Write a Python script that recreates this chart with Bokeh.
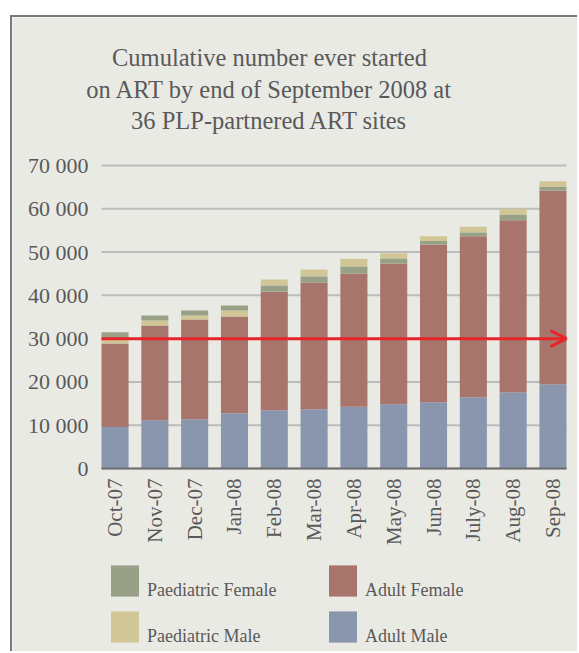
import numpy as np
from bokeh.plotting import figure
from bokeh.models import (Range1d, FixedTicker, Legend, LegendItem, Label,
                          Arrow, OpenHead, ColumnDataSource)
from bokeh.embed import file_html
from bokeh.resources import INLINE

# ---------------- data ----------------
months = ["Oct-07", "Nov-07", "Dec-07", "Jan-08", "Feb-08", "Mar-08",
          "Apr-08", "May-08", "Jun-08", "July-08", "Aug-08", "Sep-08"]
adult_male = [9600, 11150, 11400, 12750, 13450, 13700,
              14250, 14850, 15300, 16450, 17600, 19450]
adult_female = [19300, 21900, 23000, 22350, 27400, 29250,
                30800, 32500, 36400, 37200, 39750, 44700]
paed_female = [1350, 1150, 1150, 1150, 1400, 1400,
               1600, 1150, 850, 850, 1300, 900]
paed_male = [1200, 1150, 950, 1400, 1400, 1600,
             1800, 1250, 1100, 1350, 1350, 1300]
# stacking order of the two paediatric segments in the original chart
paed_male_on_top = [False, False, False, False, True, True,
                    True, True, True, True, True, True]
series_names = ["Paediatric Female", "Adult Female",
                "Paediatric Male", "Adult Male"]
y_ticks = [0, 10000, 20000, 30000, 40000, 50000, 60000, 70000]
y_tick_labels = ["0", "10 000", "20 000", "30 000", "40 000",
                 "50 000", "60 000", "70 000"]
target = 30000
title_lines = ["Cumulative number ever started",
               "on ART by end of September 2008 at",
               "36 PLP-partnered ART sites"]

# ---------------- styling / layout ----------------
FONT = "Liberation Serif"
PANEL = "#EAEAE5"
TEXT = "#595959"
C_AM = "#8A95AE"
C_AF = "#A8756C"
C_PF = "#98A188"
C_PM = "#D0C696"
BAR_W = 0.68
W, H = 567, 636                      # canvas size (canvas starts at page 12,17)
PX_L, PX_R = 89, 554                 # canvas px of first bar left / last bar right
PX_TOP, PX_ZERO = 148, 451           # canvas px of top tick / zero line

x = np.arange(len(months))
am = np.array(adult_male, dtype=float)
af = np.array(adult_female, dtype=float)
pf = np.array(paed_female, dtype=float)
pm = np.array(paed_male, dtype=float)
top_m = np.array(paed_male_on_top)

af_bottom = am
af_top = am + af
pm_bottom = np.where(top_m, af_top + pf, af_top)
pf_bottom = np.where(top_m, af_top, af_top + pm)

src = ColumnDataSource(dict(
    x=x, am_top=am, af_bottom=af_bottom, af_top=af_top,
    pm_bottom=pm_bottom, pm_top=pm_bottom + pm,
    pf_bottom=pf_bottom, pf_top=pf_bottom + pf,
))

# ranges chosen so the plotting area sits where the reference has it
x_lo, x_hi = x[0] - BAR_W / 2, x[-1] + BAR_W / 2
ux = (x_hi - x_lo) / (PX_R - PX_L)
uy = (y_ticks[-1] - y_ticks[0]) / (PX_ZERO - PX_TOP)
x_range = Range1d(x_lo - PX_L * ux, x_hi + (W - PX_R) * ux)
y_range = Range1d(y_ticks[0] - (H - PX_ZERO) * uy, y_ticks[-1] + PX_TOP * uy)

p = figure(width=W, height=H, output_backend="svg", toolbar_location=None,
           x_range=x_range, y_range=y_range,
           min_border=0, min_border_left=0, min_border_right=0,
           min_border_top=0, min_border_bottom=0)
p.margin = (15, 0, 0, 10)
p.styles = {"border-left": "2px solid #7a7a7a", "border-top": "2px solid #7a7a7a"}
p.background_fill_color = PANEL
p.border_fill_color = PANEL
p.outline_line_color = None

# horizontal grid lines at the y ticks
p.segment(x0=[x_lo] * len(y_ticks), x1=[x_hi] * len(y_ticks),
          y0=y_ticks, y1=y_ticks, line_color="#BBBBBB", line_width=2)

r_am = p.vbar(x="x", bottom=0, top="am_top", width=BAR_W, source=src,
              fill_color=C_AM, line_color=None)
r_af = p.vbar(x="x", bottom="af_bottom", top="af_top", width=BAR_W, source=src,
              fill_color=C_AF, line_color=None)
r_pm = p.vbar(x="x", bottom="pm_bottom", top="pm_top", width=BAR_W, source=src,
              fill_color=C_PM, line_color=None)
r_pf = p.vbar(x="x", bottom="pf_bottom", top="pf_top", width=BAR_W, source=src,
              fill_color=C_PF, line_color=None)

# target arrow
p.add_layout(Arrow(x_start=x_lo, y_start=target, x_end=x_hi, y_end=target,
                   line_color="#E8242B", line_width=3,
                   end=OpenHead(size=16, line_color="#E8242B", line_width=3)))

# axes
xa = p.xaxis[0]
xa.fixed_location = 0
xa.bounds = (x_lo, x_hi)
xa.ticker = FixedTicker(ticks=list(x))
xa.major_label_overrides = {int(i): m for i, m in zip(x, months)}
xa.major_label_orientation = np.pi / 2
xa.major_tick_in = 0
xa.major_tick_out = 0
xa.minor_tick_in = 0
xa.minor_tick_out = 0
xa.major_label_standoff = 10
xa.axis_line_color = "#6E6E6E"
xa.axis_line_width = 2
xa.major_label_text_font = FONT
xa.major_label_text_font_size = "21px"
xa.major_label_text_color = TEXT

ya = p.yaxis[0]
ya.fixed_location = x_lo
ya.ticker = FixedTicker(ticks=y_ticks)
ya.major_label_overrides = {t: l for t, l in zip(y_ticks, y_tick_labels)}
ya.axis_line_color = None
ya.major_tick_in = 0
ya.major_tick_out = 0
ya.minor_tick_in = 0
ya.minor_tick_out = 0
ya.major_label_standoff = 13
ya.major_label_text_font = FONT
ya.major_label_text_font_size = "22px"
ya.major_label_text_color = TEXT

p.xgrid.visible = False
p.ygrid.visible = False

# title lines
for line, yy in zip(title_lines, [596, 564, 533]):
    p.add_layout(Label(x=257, y=yy, x_units="screen", y_units="screen",
                       text=line, text_align="center", text_baseline="middle",
                       text_font=FONT, text_font_size="24.5px",
                       text_color=TEXT))

# legend: labels sit on the bottom edge of the swatches, as in the original
renderers = [r_pf, r_af, r_pm, r_am]
legend = Legend(items=[LegendItem(label="\n" + n, renderers=[r])
                       for n, r in zip(series_names, renderers)],
                location=(95, 6), orientation="horizontal", ncols=2,
                glyph_width=35, glyph_height=39, label_standoff=5,
                label_width=174, spacing=4, padding=0, margin=0,
                background_fill_alpha=0, border_line_color=None,
                label_text_font=FONT, label_text_font_size="18px",
                label_text_line_height=0.95,
                label_text_color=TEXT)
p.add_layout(legend, "center")

open("out.html", "w").write(file_html(p, INLINE))
